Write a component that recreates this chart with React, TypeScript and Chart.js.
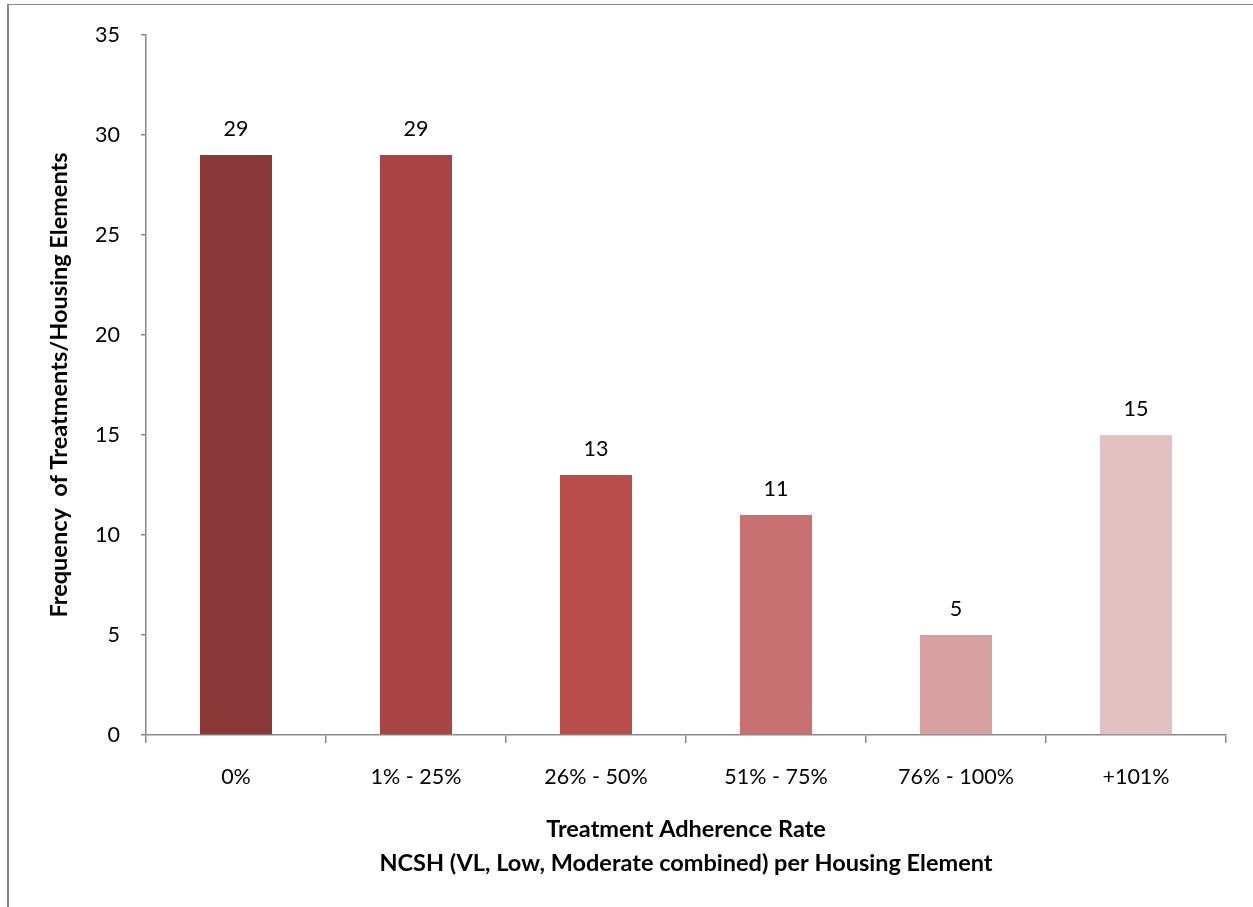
import React, { useEffect, useRef } from "react";
import { Chart, registerables } from "chart.js";

Chart.register(...registerables);

const categories = ["0%", "1% - 25%", "26% - 50%", "51% - 75%", "76% - 100%", "+101%"];
const frequencies = [29, 29, 13, 11, 5, 15];
const barColors = ["#8A3838", "#A84444", "#B94D4B", "#C97171", "#D9A0A0", "#E3C1C2"];
const yTicks = [0, 5, 10, 15, 20, 25, 30, 35];

const FONT = "Lato, 'Open Sans', sans-serif";
const AXIS_GRAY = "#898989";

// Value labels drawn just above each bar
const valueLabels = {
  id: "valueLabels",
  afterDatasetsDraw(chart: any) {
    const { ctx } = chart;
    const meta = chart.getDatasetMeta(0);
    ctx.save();
    ctx.font = `21.5px ${FONT}`;
    ctx.fillStyle = "#000";
    ctx.textAlign = "center";
    ctx.textBaseline = "middle";
    meta.data.forEach((bar: any, i: number) => {
      ctx.fillText(String(frequencies[i]), bar.x, bar.y - 26);
    });
    ctx.restore();
  },
};

export default function App() {
  const canvasRef = useRef<HTMLCanvasElement | null>(null);

  useEffect(() => {
    if (!canvasRef.current) return;
    const chart = new Chart(canvasRef.current, {
      type: "bar",
      data: {
        labels: categories,
        datasets: [
          {
            data: frequencies,
            backgroundColor: barColors,
            borderWidth: 0,
            categoryPercentage: 1,
            barPercentage: 0.4,
          },
        ],
      },
      plugins: [valueLabels],
      options: {
        animation: false,
        responsive: false,
        maintainAspectRatio: false,
        layout: { padding: { top: 35, right: 27, left: 0, bottom: 0 } },
        plugins: {
          legend: { display: false },
          tooltip: { enabled: false },
        },
        scales: {
          x: {
            afterFit(scale: any) {
              scale.height = 172;
            },
            grid: {
              display: true,
              drawOnChartArea: false,
              drawTicks: true,
              tickLength: 8,
              color: AXIS_GRAY,
              lineWidth: 1.5,
              offset: true,
            },
            border: { display: true, color: AXIS_GRAY, width: 1.5 },
            ticks: {
              color: "#000",
              font: { family: FONT, size: 21.5 },
              padding: 21,
              maxRotation: 0,
            },
            title: {
              display: true,
              text: [
                "Treatment Adherence Rate",
                "NCSH (VL, Low, Moderate combined) per Housing Element",
              ],
              color: "#000",
              font: { family: FONT, size: 23.5, weight: "bold", lineHeight: "34px" },
              padding: { top: 0, bottom: 27 },
            },
          },
          y: {
            min: 0,
            max: 35,
            afterFit(scale: any) {
              scale.width = 146;
            },
            afterBuildTicks(scale: any) {
              scale.ticks = yTicks.map((v) => ({ value: v }));
            },
            grid: {
              display: true,
              drawOnChartArea: false,
              drawTicks: true,
              tickLength: 5,
              color: AXIS_GRAY,
              lineWidth: 1.5,
            },
            border: { display: true, color: AXIS_GRAY, width: 1.5 },
            ticks: {
              color: "#000",
              font: { family: FONT, size: 21.5 },
              padding: 21,
            },
            title: {
              display: true,
              text: "Frequency  of Treatments/Housing Elements",
              color: "#000",
              font: { family: FONT, size: 23.5, weight: "bold" },
              padding: { top: 45, bottom: 0 },
            },
          },
        },
      },
    });
    return () => chart.destroy();
  }, []);

  return (
    <div style={{ position: "absolute", left: 0, top: 0, width: 1253, height: 907, background: "#fff", overflow: "hidden" }}>
      <div
        style={{
          position: "absolute",
          left: 7,
          top: 4,
          width: 1300,
          height: 1000,
          borderTop: `1.5px solid ${AXIS_GRAY}`,
          borderLeft: `2px solid ${AXIS_GRAY}`,
        }}
      />
      <canvas ref={canvasRef} width={1253} height={907} style={{ position: "absolute", left: 0, top: 0 }} />
    </div>
  );
}
